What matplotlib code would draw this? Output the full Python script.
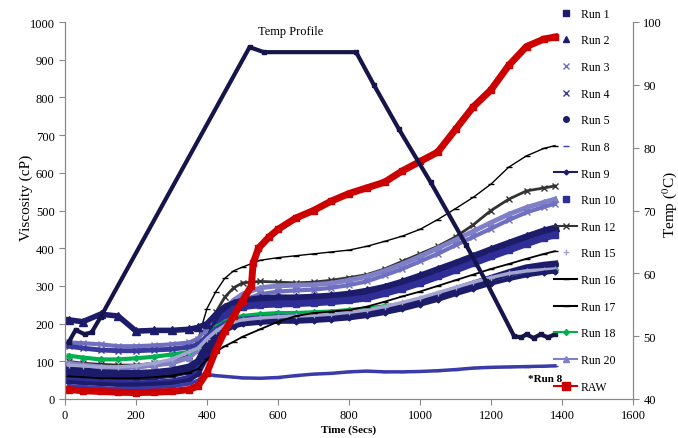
import matplotlib.pyplot as plt
from matplotlib.lines import Line2D

plt.rcParams['font.family'] = ['Liberation Serif', 'DejaVu Serif']
plt.rcParams['mathtext.fontset'] = 'stix'

# time axis shared by the runs (secs)
t = [10, 50, 100, 150, 200, 250, 300, 350, 375, 400, 425, 450, 475, 500,
     550, 600, 650, 700, 750, 800, 850, 900, 950, 1000,
     1050, 1100, 1150, 1200, 1250, 1300, 1350, 1380]

# viscosity (cP)
run1 = [70, 65, 60, 58, 58, 60, 65, 75, 95, 150, 200, 230, 245, 252,
        258, 262, 263, 265, 268, 273, 280, 290, 305, 320,
        338, 355, 372, 388, 405, 425, 442, 450]
run2 = [210, 205, 225, 220, 180, 182, 182, 185, 190, 200, 225, 245, 255, 262,
        268, 270, 270, 272, 275, 280, 288, 298, 312, 328,
        345, 362, 380, 398, 415, 432, 448, 455]
run3 = [150, 148, 145, 140, 140, 142, 145, 150, 160, 190, 215, 235, 250, 262,
        278, 285, 288, 290, 295, 302, 312, 328, 345, 365,
        385, 408, 430, 452, 475, 495, 510, 518]
run4 = [140, 135, 130, 128, 128, 130, 132, 138, 145, 165, 185, 200, 208, 212,
        215, 218, 218, 220, 222, 226, 232, 240, 250, 262,
        276, 290, 305, 318, 330, 340, 347, 350]
run5 = [80, 75, 70, 68, 68, 70, 75, 85, 100, 140, 170, 190, 200, 205,
        210, 212, 213, 215, 218, 222, 228, 238, 248, 260,
        275, 290, 305, 320, 335, 348, 355, 358]
run8 = [35, 33, 30, 28, 28, 30, 33, 40, 50, 65, 62, 60, 58, 56,
        55, 57, 62, 66, 68, 72, 74, 72, 72, 73,
        75, 78, 82, 84, 85, 86, 87, 88]
run9 = [45, 42, 40, 38, 38, 40, 42, 50, 65, 110, 155, 180, 192, 198,
        202, 205, 205, 207, 210, 214, 220, 228, 238, 250,
        263, 278, 292, 306, 318, 328, 335, 338]
run10 = [50, 48, 45, 42, 40, 42, 45, 55, 75, 130, 185, 220, 238, 245,
         250, 252, 253, 255, 258, 262, 268, 280, 293, 308,
         325, 342, 360, 378, 395, 412, 428, 435]
run12 = [100, 95, 92, 90, 90, 95, 100, 115, 135, 175, 230, 270, 295, 308,
         312, 310, 308, 310, 315, 322, 330, 345, 365, 385,
         405, 430, 462, 500, 530, 552, 560, 565]
run15 = [90, 88, 85, 85, 88, 95, 105, 125, 135, 160, 180, 195, 205, 210,
         215, 218, 220, 222, 225, 230, 236, 245, 256, 268,
         282, 296, 310, 322, 333, 340, 343, 345]
run16 = [60, 58, 55, 55, 55, 58, 62, 70, 80, 105, 125, 140, 152, 165,
         185, 205, 220, 228, 232, 236, 245, 258, 272, 285,
         300, 315, 330, 345, 358, 372, 385, 392]
run17 = [90, 85, 82, 80, 82, 85, 95, 110, 160, 240, 285, 320, 340, 350,
         368, 375, 380, 385, 390, 395, 405, 418, 432, 450,
         476, 505, 535, 570, 615, 645, 665, 672]
run18 = [115, 110, 105, 105, 108, 112, 118, 125, 135, 160, 190, 205, 215, 220,
         225, 228, 228, 230, 232, 236, 240, 246, 252, 265,
         279, 293, 307, 319, 330, 337, 341, 343]
run20 = [95, 90, 85, 82, 85, 90, 95, 110, 130, 170, 210, 240, 262, 278,
         295, 300, 302, 303, 307, 315, 325, 340, 358, 378,
         400, 422, 445, 468, 490, 508, 522, 530]

t_raw = [10, 50, 100, 150, 200, 250, 300, 350, 375, 400, 425, 450, 475, 500,
         525, 530, 545, 575, 600, 650, 700, 750, 800, 850, 900, 950, 1000,
         1050, 1100, 1150, 1200, 1250, 1300, 1350, 1380]
raw = [25, 22, 20, 18, 17, 18, 20, 25, 35, 70, 130, 180, 220, 260,
       300, 360, 400, 430, 450, 480, 500, 525, 545, 560, 575, 605, 630,
       655, 715, 775, 820, 885, 935, 955, 960]

# temperature profile (deg C, right axis)
t_temp = [10, 30, 55, 75, 100, 520, 560, 820, 870, 940, 1030, 1130, 1185,
          1265, 1285, 1300, 1320, 1340, 1360, 1380]
temp = [49.0, 51.0, 50.3, 50.6, 53.0, 96.0, 95.2, 95.2, 90.0, 83.0, 74.5,
        64.5, 58.8, 50.0, 49.8, 50.3, 49.7, 50.3, 49.8, 50.3]

navy = '#1c1c6b'
blue = '#2e2e96'
lav = '#8080c8'

# label, data, color, linewidth, marker, markersize, legend shows line
series = [
    ('Run 17', run17, 'black', 1.0, '_', 4, True),
    ('Run 12', run12, '#333333', 2.0, 'x', 4, True),
    ('Run 20', run20, lav, 3.5, '^', 4, True),
    ('Run 3', run3, '#7070c0', 3.0, 'x', 4, False),
    ('Run 2', run2, navy, 4.0, '^', 6, False),
    ('Run 1', run1, navy, 5.0, 's', 4, False),
    ('Run 10', run10, blue, 5.0, 's', 4, False),
    ('Run 18', run18, '#00b050', 3.0, 'D', 3, True),
    ('Run 4', run4, '#3a3a9c', 3.5, 'x', 4, False),
    ('Run 5', run5, navy, 5.0, 'o', 4, False),
    ('Run 15', run15, '#a4a4d0', 2.5, '+', 5, False),
    ('Run 9', run9, navy, 3.0, 'D', 2.5, True),
    ('Run 16', run16, 'black', 1.3, '_', 4, True),
    ('Run 8', run8, '#3a3aa8', 2.5, '_', 5, False),
]

fig = plt.figure(figsize=(6.78, 4.39), dpi=100)
ax = fig.add_axes([65 / 678, 39 / 439, 568 / 678, 377 / 439])

for name, vals, c, lw, m, ms, _ in series:
    ax.plot(t, vals, color=c, lw=lw, marker=m, ms=ms, mec=c, mfc=c)
ax.plot(t_raw, raw, color='#cc0000', lw=5, marker='s', ms=4)

ax.set_xlim(0, 1600)
ax.set_ylim(0, 1000)
ax.set_xticks(range(0, 1601, 200))
ax.set_yticks(range(0, 1001, 100))
ax.set_xlabel('Time (Secs)', fontsize=8, fontweight='bold', labelpad=2)
fig.text(26 / 678, 1 - 198 / 439, 'Viscosity (cP)', rotation=90,
         ha='center', va='center', fontsize=11)

ax2 = ax.twinx()
ax2.plot(t_temp, temp, color='#15154a', lw=3, marker='s', ms=2.5)
ax2.set_ylim(40, 100)
ax2.set_yticks(range(40, 101, 10))
ax2.set_ylabel('Temp ($^{0}$C)', fontsize=11)
ax2.yaxis.set_label_coords(1.048, 0.52)

for a in (ax, ax2):
    a.spines['top'].set_visible(False)
    for s in ('left', 'right', 'bottom'):
        a.spines[s].set_color('#888888')
    a.tick_params(colors='#888888', labelcolor='black', labelsize=9,
                  length=4, direction='out')

ax.text(636, 976, 'Temp Profile', ha='center', va='center', fontsize=9)
ax.text(1352, 55, '*Run 8', ha='center', va='center', fontsize=8,
        fontweight='bold')

# legend, in the order of the original chart
order = ['Run 1', 'Run 2', 'Run 3', 'Run 4', 'Run 5', 'Run 8', 'Run 9',
         'Run 10', 'Run 12', 'Run 15', 'Run 16', 'Run 17', 'Run 18',
         'Run 20']
lookup = {s[0]: s for s in series}
handles = []
for name in order:
    _, _, c, lw, m, ms, with_line = lookup[name]
    handles.append(Line2D([], [], color=c, lw=1.5 if with_line else 0,
                          linestyle='-' if with_line else 'none',
                          marker=m, ms=min(ms, 5), mec=c, mfc=c))
handles.append(Line2D([], [], color='#cc0000', lw=1.5, marker='s', ms=6))
ax2.legend(handles, order + ['RAW'], loc='upper left',
           bbox_to_anchor=(549 / 678, 1 - 4 / 439),
           bbox_transform=fig.transFigure, frameon=False, fontsize=8.5,
           labelspacing=1.24, handlelength=2.0, handletextpad=0.3,
           borderaxespad=0)

fig.savefig('out.png', dpi=100)
